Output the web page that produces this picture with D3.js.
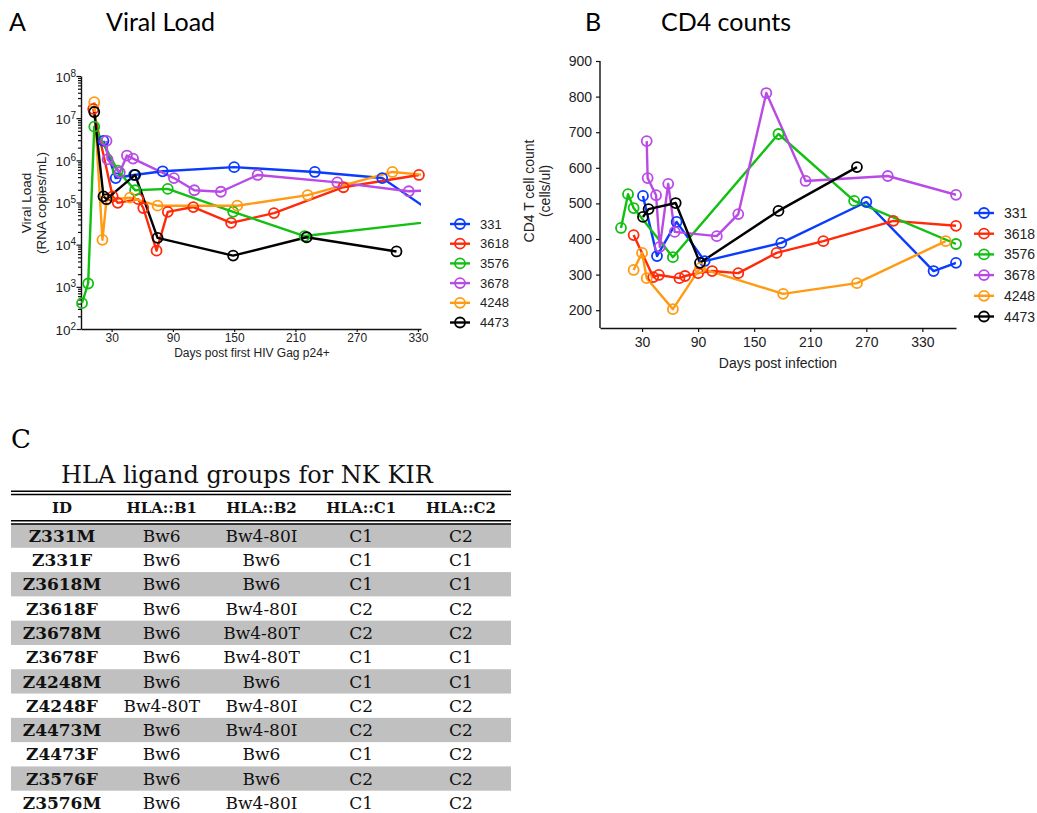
<!DOCTYPE html>
<html>
<head>
<meta charset="utf-8">
<script src="https://cdn.jsdelivr.net/npm/d3@7"></script>
<style>
  body { margin: 0; background: #fff; }
  svg { display: block; }
</style>
</head>
<body>
<svg id="fig" width="1037" height="813"></svg>
<script>
// ---------- series identity ----------
const seriesNames  = ["331", "3618", "3576", "3678", "4248", "4473"];
const seriesColors = ["#0a3cff", "#ff2a0a", "#12c012", "#b94ae6", "#ff9a12", "#000000"];

// ---------- A: viral load (days post first HIV Gag p24+, RNA copies/mL) ----------
const vlDays331   = [22, 34, 52, 80, 150, 229, 295, 342];
const vlLoad331   = [2.9e6, 3.8e5, 4.5e5, 5.5e5, 6.9e5, 5.3e5, 3.8e5, 6.3e4];
const vlDays3618  = [12, 31, 36, 56, 61, 74, 85, 110, 147, 189, 257, 331];
const vlLoad3618  = [1.66e7, 1.4e5, 9.8e4, 1.2e5, 7.4e4, 7.2e3, 6.0e4, 7.8e4, 3.3e4, 5.6e4, 2.3e5, 4.5e5];
const vlDays3576  = [1, 7, 13, 36, 53, 85, 149, 219, 400];
const vlLoad3576  = [410, 1200, 6.3e6, 5.7e5, 1.95e5, 2.1e5, 6.0e4, 1.6e4, 5.0e4];
const vlDays3678  = [25, 26, 38, 45, 51, 91, 111, 137, 173, 251, 321, 345];
const vlLoad3678  = [2.9e6, 1.05e6, 5.2e5, 1.3e6, 1.1e6, 3.8e5, 1.95e5, 1.8e5, 4.5e5, 3.0e5, 1.85e5, 1.95e5];
const vlDays4248  = [13, 21, 25, 48, 75, 153, 222, 305, 345];
const vlLoad4248  = [2.4e7, 1.3e4, 1.15e5, 1.3e5, 8.4e4, 8.4e4, 1.5e5, 5.3e5, 4.3e5];
const vlDays4473  = [13, 22, 25, 53, 75, 149, 221, 309];
const vlLoad4473  = [1.4e7, 1.4e5, 1.2e5, 4.5e5, 1.45e4, 5.5e3, 1.5e4, 6.9e3];

// ---------- B: CD4 T cell count (days post infection, cells/ul) ----------
const cdDays331   = [31, 46, 67, 97, 179, 270, 342, 366];
const cdCount331  = [521, 352, 448, 338, 389, 504, 310, 333];
const cdDays3618  = [21, 42, 48, 70, 76, 90, 105, 133, 174, 224, 299, 366];
const cdCount3618 = [411, 293, 299, 290, 296, 304, 310, 304, 361, 394, 451, 437];
const cdDays3576  = [7.5, 15, 21, 63, 176, 257, 366];
const cdCount3576 = [431, 526, 487, 349, 695, 507, 386];
const cdDays3678  = [35, 36, 45, 49, 58, 65, 110, 133, 163, 205, 293, 366];
const cdCount3678 = [675, 571, 523, 378, 555, 420, 408, 470, 810, 563, 577, 524];
const cdDays4248  = [21, 30, 35, 63, 92, 181, 260, 355];
const cdCount4248 = [313, 361, 290, 203, 318, 246, 276, 394];
const cdDays4473  = [31, 37, 66, 92, 176, 260];
const cdCount4473 = [462, 484, 501, 333, 479, 602];

// ---------- axis ticks ----------
const vlDayTicks   = [30, 90, 150, 210, 270, 330];
const vlLoadTicks  = [1e2, 1e3, 1e4, 1e5, 1e6, 1e7, 1e8];
const cdDayTicks   = [30, 90, 150, 210, 270, 330];
const cdCountTicks = [200, 300, 400, 500, 600, 700, 800, 900];

// ---------- C: HLA ligand groups ----------
const hlaColumns = ["ID", "HLA::B1", "HLA::B2", "HLA::C1", "HLA::C2"];
const hlaIds = ["Z331M", "Z331F", "Z3618M", "Z3618F", "Z3678M", "Z3678F",
                "Z4248M", "Z4248F", "Z4473M", "Z4473F", "Z3576F", "Z3576M"];
const hlaB1 = ["Bw6", "Bw6", "Bw6", "Bw6", "Bw6", "Bw6", "Bw6", "Bw4-80T", "Bw6", "Bw6", "Bw6", "Bw6"];
const hlaB2 = ["Bw4-80I", "Bw6", "Bw6", "Bw4-80I", "Bw4-80T", "Bw4-80T", "Bw6", "Bw4-80I", "Bw4-80I", "Bw6", "Bw6", "Bw4-80I"];
const hlaC1 = ["C1", "C1", "C1", "C2", "C2", "C1", "C1", "C2", "C2", "C1", "C2", "C1"];
const hlaC2 = ["C2", "C1", "C1", "C2", "C2", "C1", "C1", "C2", "C2", "C2", "C2", "C2"];

const zip = (a, b) => a.map((v, i) => [v, b[i]]);
const vlSeries = [
  zip(vlDays331, vlLoad331), zip(vlDays3618, vlLoad3618), zip(vlDays3576, vlLoad3576),
  zip(vlDays3678, vlLoad3678), zip(vlDays4248, vlLoad4248), zip(vlDays4473, vlLoad4473)
];
const cdSeries = [
  zip(cdDays331, cdCount331), zip(cdDays3618, cdCount3618), zip(cdDays3576, cdCount3576),
  zip(cdDays3678, cdCount3678), zip(cdDays4248, cdCount4248), zip(cdDays4473, cdCount4473)
];

const svg = d3.select("#fig");
const SANS = "'Liberation Sans', Arial, sans-serif";
const TITLE = "Lato, 'Open Sans', sans-serif";
const SERIF = "'DejaVu Serif', serif";

// Draws one line+open-circle panel; points past the x domain only shape the clipped line.
function drawPanel(id, x, y, series) {
  const [x0, x1] = x.range();
  svg.append("clipPath").attr("id", id)
    .append("rect").attr("x", 0).attr("y", 0).attr("width", x1).attr("height", 813);
  const line = d3.line().x(d => x(d[0])).y(d => y(d[1]));
  const g = svg.append("g");
  series.forEach((pts, i) => {
    g.append("path").datum(pts)
      .attr("d", line)
      .attr("fill", "none")
      .attr("stroke", seriesColors[i])
      .attr("stroke-width", 2.4)
      .attr("stroke-linejoin", "round")
      .attr("clip-path", `url(#${id})`);
  });
  series.forEach((pts, i) => {
    g.selectAll(null).data(pts.filter(d => d[0] <= x.domain()[1]))
      .join("circle")
      .attr("cx", d => x(d[0])).attr("cy", d => y(d[1]))
      .attr("r", 5)
      .attr("fill", "none")
      .attr("stroke", seriesColors[i])
      .attr("stroke-width", 1.8);
  });
}

function drawLegend(lx, ly, step, fontSize) {
  const g = svg.append("g");
  seriesNames.forEach((name, i) => {
    const yy = ly + i * step;
    g.append("line").attr("x1", lx).attr("x2", lx + 20).attr("y1", yy).attr("y2", yy)
      .attr("stroke", seriesColors[i]).attr("stroke-width", 2.4);
    g.append("circle").attr("cx", lx + 10).attr("cy", yy).attr("r", 5)
      .attr("fill", "none").attr("stroke", seriesColors[i]).attr("stroke-width", 1.8);
    g.append("text").attr("x", lx + 30).attr("y", yy).attr("dy", "0.36em")
      .attr("font-family", SANS).attr("font-size", fontSize).attr("fill", "#222")
      .text(name);
  });
}

function styleAxis(g, fontSize) {
  g.select(".domain").attr("stroke", "#111").attr("stroke-width", 1.4);
  g.selectAll(".tick line").attr("stroke", "#111").attr("stroke-width", 1.2);
  g.selectAll(".tick text").attr("font-family", SANS).attr("font-size", fontSize).attr("fill", "#222");
}

// ---------- panel titles ----------
svg.append("text").attr("x", 9).attr("y", 31).attr("font-family", TITLE).attr("font-size", 25).text("A");
svg.append("text").attr("x", 106).attr("y", 31).attr("font-family", TITLE).attr("font-size", 25).text("Viral Load");
svg.append("text").attr("x", 585).attr("y", 31).attr("font-family", TITLE).attr("font-size", 25).text("B");
svg.append("text").attr("x", 661).attr("y", 31).attr("font-family", TITLE).attr("font-size", 25).text("CD4 counts");

// ---------- A: viral load ----------
const xA = d3.scaleLinear().domain([0, 333]).range([81, 421]);
const yA = d3.scaleLog().domain([1e2, 1e8]).range([329, 76]);

const minorA = [];
for (let e = 2; e < 8; e++) for (let m = 2; m <= 9; m++) minorA.push(m * Math.pow(10, e));
const gMinorA = svg.append("g").attr("transform", `translate(${xA.range()[0]},0)`)
  .call(d3.axisLeft(yA).tickValues(minorA).tickSize(3).tickFormat(""));
styleAxis(gMinorA, 12);
gMinorA.select(".domain").remove();

const gyA = svg.append("g").attr("transform", `translate(${xA.range()[0]},0)`)
  .call(d3.axisLeft(yA).tickValues(vlLoadTicks).tickSize(4.5).tickSizeOuter(0).tickFormat(""));
styleAxis(gyA, 12);
gyA.selectAll(".tick").append("text")
  .attr("x", -5).attr("dy", "0.38em").attr("text-anchor", "end")
  .attr("font-family", SANS).attr("font-size", 13.5).attr("fill", "#222")
  .each(function (d) {
    const t = d3.select(this);
    t.append("tspan").text("10");
    t.append("tspan").attr("dy", "-0.5em").attr("font-size", 10).text(Math.round(Math.log10(d)));
  });

const gxA = svg.append("g").attr("transform", `translate(0,${yA.range()[0]})`)
  .call(d3.axisBottom(xA).tickValues(vlDayTicks).tickSize(3).tickSizeOuter(0).tickPadding(1));
styleAxis(gxA, 12);

svg.append("text").attr("transform", "translate(26,203) rotate(-90)")
  .attr("text-anchor", "middle").attr("dy", "0.36em")
  .attr("font-family", SANS).attr("font-size", 13.5).attr("fill", "#222").text("Viral Load");
svg.append("text").attr("transform", "translate(41,203) rotate(-90)")
  .attr("text-anchor", "middle").attr("dy", "0.36em")
  .attr("font-family", SANS).attr("font-size", 13.5).attr("fill", "#222").text("(RNA copies/mL)");
svg.append("text").attr("x", 252).attr("y", 357).attr("text-anchor", "middle")
  .attr("font-family", SANS).attr("font-size", 12).attr("fill", "#222").text("Days post first HIV Gag p24+");

drawPanel("clipA", xA, yA, vlSeries);
drawLegend(450, 224, 19.7, 13);

// ---------- B: CD4 counts ----------
const xB = d3.scaleLinear().domain([-15, 366]).range([600, 956]);
const yB = d3.scaleLinear().domain([150, 900]).range([328, 61]);

const gyB = svg.append("g").attr("transform", `translate(${xB.range()[0]},0)`)
  .call(d3.axisLeft(yB).tickValues(cdCountTicks).tickSize(4).tickSizeOuter(0).tickPadding(4));
styleAxis(gyB, 14);
// extend the y axis line up to the top tick
gyB.select(".domain").attr("d", `M0,${yB(900)}V${yB(150)}`);

const gxB = svg.append("g").attr("transform", `translate(0,${yB.range()[0]})`)
  .call(d3.axisBottom(xB).tickValues(cdDayTicks).tickSize(4).tickSizeOuter(0).tickPadding(5));
styleAxis(gxB, 14);

svg.append("text").attr("transform", "translate(529,191) rotate(-90)")
  .attr("text-anchor", "middle").attr("dy", "0.36em")
  .attr("font-family", SANS).attr("font-size", 14).attr("fill", "#222").text("CD4 T cell count");
svg.append("text").attr("transform", "translate(545,191) rotate(-90)")
  .attr("text-anchor", "middle").attr("dy", "0.36em")
  .attr("font-family", SANS).attr("font-size", 14).attr("fill", "#222").text("(cells/ul)");
svg.append("text").attr("x", 778).attr("y", 368).attr("text-anchor", "middle")
  .attr("font-family", SANS).attr("font-size", 14).attr("fill", "#222").text("Days post infection");

drawPanel("clipB", xB, yB, cdSeries);
drawLegend(974, 213, 20.7, 14);

// ---------- C: HLA table ----------
svg.append("text").attr("x", 11).attr("y", 448).attr("font-family", SERIF).attr("font-size", 26).text("C");
svg.append("text").attr("x", 247).attr("y", 483).attr("text-anchor", "middle")
  .attr("font-family", SERIF).attr("font-size", 24).attr("fill", "#111")
  .text("HLA ligand groups for NK KIR");

const colX = d3.scalePoint().domain(hlaColumns).range([62, 461]);
const rowY = d3.scaleBand().domain(d3.range(hlaIds.length)).range([523.5, 815]);
const tableLeft = 11, tableRight = 511;

const gt = svg.append("g");
gt.selectAll("rect.band").data(d3.range(hlaIds.length).filter(i => i % 2 === 0))
  .join("rect").attr("class", "band")
  .attr("x", tableLeft).attr("width", tableRight - tableLeft)
  .attr("y", i => rowY(i)).attr("height", rowY.bandwidth())
  .attr("fill", "#c0c0c0");

[491.2, 494.6, 520.8, 524.0].forEach(yy => {
  gt.append("line").attr("x1", tableLeft).attr("x2", tableRight).attr("y1", yy).attr("y2", yy)
    .attr("stroke", "#000").attr("stroke-width", 1.5);
});

gt.selectAll("text.head").data(hlaColumns).join("text").attr("class", "head")
  .attr("x", d => colX(d)).attr("y", 507.5).attr("dy", "0.36em").attr("text-anchor", "middle")
  .attr("font-family", SERIF).attr("font-weight", "bold").attr("font-size", 15).attr("fill", "#111")
  .text(d => d);

const hlaRows = hlaIds.map((id, i) => [id, hlaB1[i], hlaB2[i], hlaC1[i], hlaC2[i]]);
hlaRows.forEach((row, i) => {
  row.forEach((cell, j) => {
    gt.append("text")
      .attr("x", colX(hlaColumns[j]))
      .attr("y", rowY(i) + rowY.bandwidth() / 2)
      .attr("dy", "0.36em").attr("text-anchor", "middle")
      .attr("font-family", SERIF)
      .attr("font-weight", j === 0 ? "bold" : "normal")
      .attr("font-size", j === 0 ? 17 : 17)
      .attr("fill", "#111")
      .text(cell);
  });
});
</script>
</body>
</html>
